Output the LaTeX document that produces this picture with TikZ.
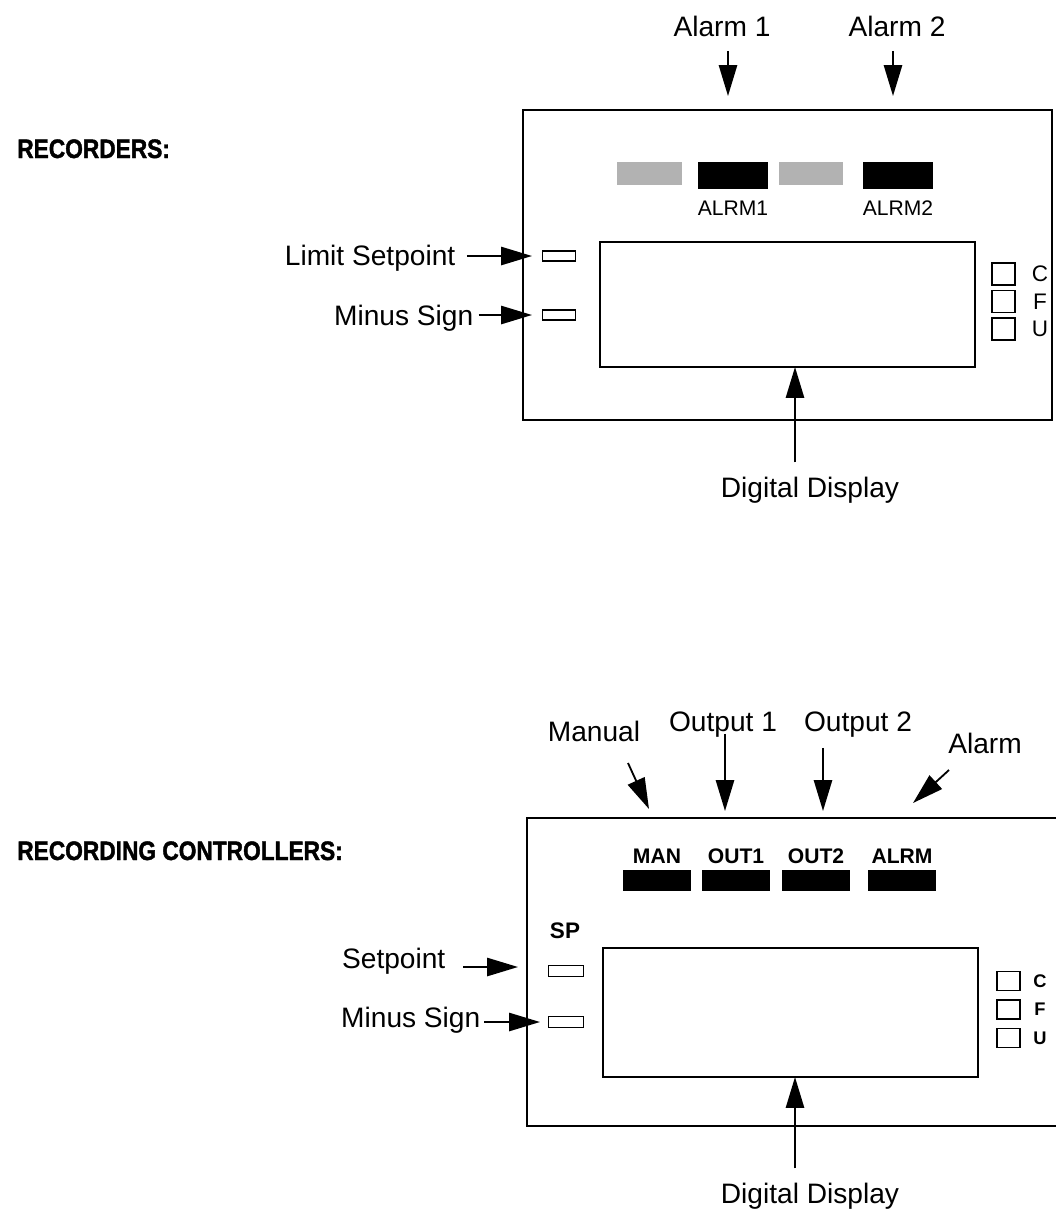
\documentclass[tikz,border=0pt]{standalone}
\usepackage{fontspec}
\setmainfont{Liberation Sans}
\newfontfamily\headfont[FakeStretch=0.85, FakeBold=1.5]{Liberation Sans}
\usetikzlibrary{arrows.meta, positioning}

\begin{document}
\begin{tikzpicture}[x=0.025cm, y=-0.025cm,
    box/.style={draw, line width=1.6pt},
    disp/.style={draw, line width=1.4pt, minimum width=9.375cm, inner sep=0pt},
    led/.style={draw, line width=1.1pt, minimum width=0.82cm, minimum height=0.24cm, inner sep=0pt},
    sq/.style={draw, line width=1.2pt, minimum width=0.575cm, inner sep=0pt},
    bar/.style={fill=black, inner sep=0pt},
    dim/.style={fill=black!30, minimum width=1.6cm, minimum height=0.575cm, inner sep=0pt},
    lbl/.style={font=\fontsize{20}{24}\selectfont, inner sep=1pt},
    tag/.style={font=\fontsize{15}{18}\selectfont, inner sep=1pt},
    btag/.style={font=\bfseries\fontsize{15}{18}\selectfont, inner sep=1pt},
    head/.style={font=\headfont\bfseries\fontsize{19}{22}\selectfont, inner sep=0pt, anchor=base west},
    pnt/.style={line width=1.3pt, -{Triangle[length=22pt, width=13pt]}}
  ]
  \useasboundingbox (0,0) rectangle (1056,1212);
  \clip (0,0) rectangle (1056,1212);

  % recorders
  \node[head] (recA) at (17,158) {RECORDERS:};
  \draw[box] (523,110) rectangle (1052,420);
  \node[disp, minimum height=3.125cm] (dispA) at (787.5,304.5) {};
  \node[dim] (g1) at (649.5,173.5) {};
  \node[bar, minimum width=1.75cm, minimum height=0.675cm] (b1) at (733,175.5) {};
  \node[dim] (g2) at (811,173.5) {};
  \node[bar, minimum width=1.75cm, minimum height=0.675cm] (b2) at (898,175.5) {};
  \node[tag, below=7pt of b1] (t1) {ALRM1};
  \node[tag, below=7pt of b2] (t2) {ALRM2};
  \foreach \l [count=\i] in {C,F,U} {
    \node[sq, minimum height=0.55cm] (sqA\i) at (1003.5,246.5+27.5*\i) {};
    \node[font=\fontsize{16}{19}\selectfont, inner sep=1pt] (uA\i) at (1040,246.5+27.5*\i) {\l};
  }
  \node[led] (ledA1) at (559,256) {};
  \node[led] (ledA2) at (559,315) {};
  \node[lbl, anchor=base east] (lsA) at (457,265) {Limit Setpoint};
  \node[lbl, anchor=base east] (msA) at (475,325) {Minus Sign};
  \draw[pnt, shorten <=7pt, shorten >=7pt] (lsA.east |- ledA1) -- (ledA1);
  \draw[pnt, shorten <=2.5pt, shorten >=7pt] (msA.east |- ledA2) -- (ledA2);
  \node[lbl, anchor=base] (al1) at (722,36) {Alarm 1};
  \node[lbl, anchor=base] (al2) at (897,36) {Alarm 2};
  \coordinate (al1t) at (728,96);
  \coordinate (al2t) at (893,96);
  \draw[pnt, shorten <=10.5pt] (al1.base -| al1t) -- (al1t);
  \draw[pnt, shorten <=10.5pt] (al2.base -| al2t) -- (al2t);
  \node[lbl, anchor=base] (ddA) at (810,497) {Digital Display};
  \coordinate (ddAt) at (795,367);
  \draw[pnt, shorten <=9pt] (ddA.north -| ddAt) -- (ddAt);

  % recording controllers
  \node[head] (recB) at (17,860) {RECORDING CONTROLLERS:};
  \draw[box] (527,818) rectangle (1090,1126);
  \node[disp, minimum height=3.225cm] (dispB) at (790.5,1012.5) {};
  \foreach \n/\x [count=\i] in {MAN/657, OUT1/736, OUT2/816, ALRM/902} {
    \node[bar, minimum width=1.7cm, minimum height=0.525cm] (bb\i) at (\x,880) {};
    \node[btag, above=3pt of bb\i] (tb\i) {\n};
  }
  \foreach \l [count=\i] in {C,F,U} {
    \node[sq, minimum height=0.475cm] (sqB\i) at (1008.5,952.5+28.5*\i) {};
    \node[font=\bfseries\fontsize{13}{16}\selectfont, inner sep=1pt] (uB\i) at (1040,952.5+28.5*\i) {\l};
  }
  \node[btag, font=\bfseries\fontsize{16}{19}\selectfont, anchor=base] (spL) at (565,938) {SP};
  \node[led, minimum width=0.875cm, minimum height=0.275cm] (ledB1) at (566,971) {};
  \node[led, minimum width=0.875cm, minimum height=0.275cm] (ledB2) at (566,1022) {};
  \node[lbl, anchor=base east] (spB) at (447,968) {Setpoint};
  \node[lbl, anchor=base east] (msB) at (482,1027) {Minus Sign};
  \coordinate (spBt) at (518,967);
  \draw[pnt, shorten <=11.5pt] (spB.east |- spBt) -- (spBt);
  \draw[pnt, shorten <=1.5pt, shorten >=5.5pt] (msB.east |- ledB2) -- (ledB2);
  \node[lbl, anchor=base] (mn) at (594,741) {Manual};
  \node[lbl, anchor=base] (op1) at (723,731) {Output 1};
  \node[lbl, anchor=base] (op2) at (858,731) {Output 2};
  \node[lbl, anchor=base] (alB) at (985,753) {Alarm};
  \coordinate (mnT) at (628,763);
  \coordinate (mnH) at (649,809);
  \coordinate (op1t) at (725,811);
  \coordinate (op2t) at (823,811);
  \coordinate (alBT) at (949,770);
  \coordinate (alBH) at (913,803);
  \draw[pnt] (mnT) -- (mnH);
  \draw[pnt, shorten <=2pt] (op1.base -| op1t) -- (op1t);
  \draw[pnt, shorten <=12pt] (op2.base -| op2t) -- (op2t);
  \draw[pnt] (alBT) -- (alBH);
  \node[lbl, anchor=base] (ddB) at (810,1203) {Digital Display};
  \coordinate (ddBt) at (795,1077);
  \draw[pnt, shorten <=9pt] (ddB.north -| ddBt) -- (ddBt);
\end{tikzpicture}
\end{document}
